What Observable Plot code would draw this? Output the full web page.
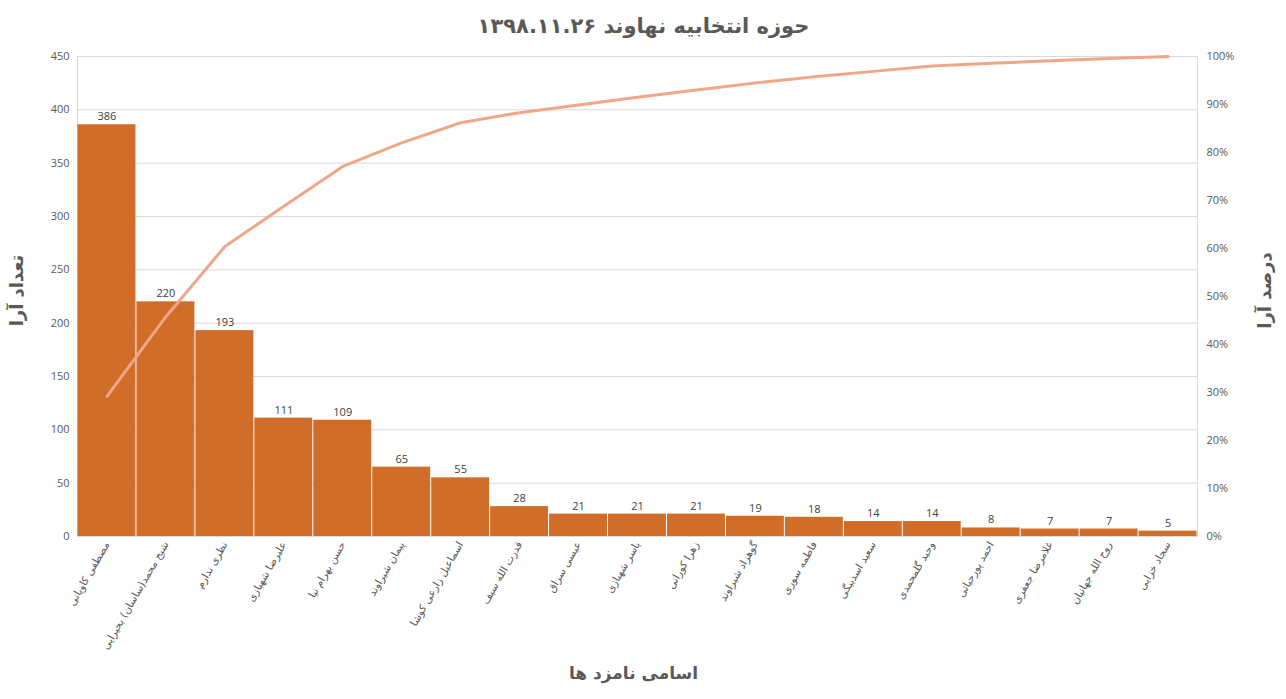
<!DOCTYPE html>
<html>
<head>
<meta charset="utf-8">
<script src="https://cdn.jsdelivr.net/npm/d3@7"></script>
<script src="https://cdn.jsdelivr.net/npm/@observablehq/plot@0.6"></script>
<style>
  html, body { margin: 0; padding: 0; background: white; }
  #chart { width: 1286px; height: 699px; }
</style>
</head>
<body>
<div id="chart"></div>
<script>
const title = "حوزه انتخابیه نهاوند ۱۳۹۸.۱۱.۲۶";
const yTitle = "تعداد آرا";
const y2Title = "درصد آرا";
const xTitle = "اسامی نامزد ها";

const names = [
  "مصطفی کاویانی",
  "شیخ محمد(ساسان) بحیرایی",
  "نظری ندارم",
  "علیرضا شهبازی",
  "حسن بهرام نیا",
  "پیمان شیراوند",
  "اسماعیل زارعی کوشا",
  "قدرت الله سیف",
  "عیسی سراق",
  "یاسر شهبازی",
  "زهرا کورانی",
  "گوهزاد شیراوند",
  "فاطمه سوری",
  "سعید اسدبیگی",
  "وحید گلمحمدی",
  "احمد پورحیاتی",
  "غلامرضا جعفری",
  "روح الله جهانیان",
  "سجاد خزایی"
];
const votes = [386, 220, 193, 111, 109, 65, 55, 28, 21, 21, 21, 19, 18, 14, 14, 8, 7, 7, 5];
const cumPct = [29.2, 45.8, 60.4, 68.8, 77.1, 82.0, 86.2, 88.3, 89.9, 91.5, 93.0, 94.5, 95.8, 96.9, 98.0, 98.6, 99.1, 99.6, 100];
const yTicks = [0, 50, 100, 150, 200, 250, 300, 350, 400, 450];
const pctTicks = [0, 10, 20, 30, 40, 50, 60, 70, 80, 90, 100];

const yMax = 450;
const data = names.map((n, i) => ({name: n, votes: votes[i], pct: cumPct[i]}));
const pctToY = p => p * yMax / 100;

const arabicFont = "'DejaVu Sans', 'Noto Sans', sans-serif";
const textColor = "#595959";

const chart = Plot.plot({
  width: 1286,
  height: 699,
  marginLeft: 77,
  marginRight: 89,
  marginTop: 56,
  marginBottom: 163,
  style: {fontFamily: "'Open Sans', 'DejaVu Sans', sans-serif", fontSize: "11px", color: textColor, background: "white"},
  x: {domain: names, padding: 0, round: false, label: null},
  y: {domain: [0, yMax], label: null},
  marks: [
    Plot.gridY(yTicks, {stroke: "#D9D9D9", strokeOpacity: 1}),
    Plot.frame({stroke: "#D9D9D9"}),
    Plot.barY(data, {x: "name", y: "votes", fill: "#D06D29", insetLeft: 0.5, insetRight: 0.5}),
    Plot.text(data, {x: "name", y: "votes", text: d => String(d.votes), dy: -8, fill: "#404040", fontSize: 11}),
    Plot.lineY(data, {x: "name", y: d => pctToY(d.pct), stroke: "#F0A788", strokeWidth: 3}),
    Plot.axisY(yTicks, {anchor: "left", tickSize: 0, tickPadding: 8, label: null, fill: textColor, fontSize: 11}),
    Plot.axisY(pctTicks.map(pctToY), {anchor: "right", tickSize: 0, tickPadding: 9, label: null, fill: textColor, fontSize: 11, tickFormat: v => Math.round(v * 100 / yMax) + "%"}),
    Plot.axisX({anchor: "bottom", tickSize: 0, tickPadding: 6, tickRotate: -60, textAnchor: "end", label: null, fill: textColor, fontSize: 10.5, fontFamily: arabicFont}),
    Plot.text([title], {frameAnchor: "top", textAnchor: "middle", dx: 6, dy: -38, fontSize: 21, fontWeight: "bold", fill: textColor, fontFamily: arabicFont}),
    Plot.text([xTitle], {frameAnchor: "bottom", textAnchor: "middle", dx: -4, dy: 142, fontSize: 17, fontWeight: "bold", fill: textColor, fontFamily: arabicFont}),
    Plot.text([yTitle], {frameAnchor: "left", textAnchor: "middle", dx: -60, dy: -6, rotate: -90, fontSize: 18, fontWeight: "bold", fill: textColor, fontFamily: arabicFont}),
    Plot.text([y2Title], {frameAnchor: "right", textAnchor: "middle", dx: 68, dy: -6, rotate: -90, fontSize: 18, fontWeight: "bold", fill: textColor, fontFamily: arabicFont})
  ]
});
document.getElementById("chart").appendChild(chart);
</script>
</body>
</html>
